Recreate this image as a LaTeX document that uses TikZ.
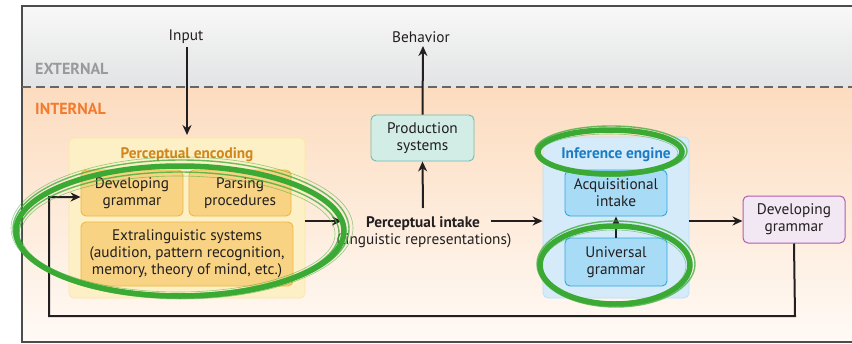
\documentclass[tikz,border=0pt]{standalone}
\usepackage{fontspec}
\setmainfont{PT Sans}
\usetikzlibrary{arrows.meta,shapes.geometric,decorations.pathmorphing}
\definecolor{extT}{HTML}{F8F8F8}
\definecolor{extB}{HTML}{E2E3E4}
\definecolor{intT}{HTML}{FCDCBF}
\definecolor{intB}{HTML}{FFFAF6}
\definecolor{peFill}{HTML}{FDF0C6}
\definecolor{peBorder}{HTML}{FBE7A6}
\definecolor{peIn}{HTML}{F7D383}
\definecolor{peInB}{HTML}{EFB743}
\definecolor{peTitle}{HTML}{D0861C}
\definecolor{prFill}{HTML}{D2ECE6}
\definecolor{prBorder}{HTML}{6DBCAE}
\definecolor{ieFill}{HTML}{D5EBF9}
\definecolor{ieBorder}{HTML}{BCDFF5}
\definecolor{ieIn}{HTML}{A8DBF5}
\definecolor{ieInB}{HTML}{2EA8E0}
\definecolor{ieTitle}{HTML}{1A7CC4}
\definecolor{dgFill}{HTML}{F1E8F4}
\definecolor{dgBorder}{HTML}{B05DAE}
\definecolor{intCol}{HTML}{F37A2E}
\definecolor{extCol}{HTML}{9A9A9A}
\definecolor{brush}{HTML}{3AAA35}
\definecolor{ink}{HTML}{231F20}
\tikzset{
  x=1pt,y=-1pt,
  txt/.style={font=\fontsize{15.3}{17}\selectfont, text=ink, align=center},
  btxt/.style={font=\bfseries\fontsize{15.3}{17}\selectfont},
  inbox/.style={txt, draw=peInB, fill=peIn, rounded corners=5pt, line width=0.9pt, minimum width=102pt, minimum height=46pt, inner sep=0pt},
  ibox/.style={txt, draw=ieInB, fill=ieIn, rounded corners=5pt, line width=0.9pt, minimum width=102pt, minimum height=46pt, inner sep=0pt},
  arr/.style={draw=ink, line width=2pt, -{Stealth[length=10pt,width=9pt]}},
  brushline/.style={draw=brush, line width=5.5pt},
  brushthin/.style={draw=brush, line width=1.4pt, opacity=0.75},
  brushhair/.style={draw=brush, line width=0.6pt, opacity=0.55}
}
\begin{document}
\begin{tikzpicture}
\useasboundingbox (0,0) rectangle (852,343);
% backgrounds
\shade[top color=extT, bottom color=extB] (22,6) rectangle (852,87);
\shade[top color=intT, bottom color=intB] (22,87) rectangle (852,342);
\draw[line width=1.4pt, draw=black!70] (853,6) -- (22,6) -- (22,342) -- (853,342);
\draw[dash pattern=on 9pt off 5pt, line width=1.4pt, draw=black!60] (22,87) -- (852,87);
\node[font=\bfseries\fontsize{16}{18}\selectfont, text=extCol, anchor=west, inner sep=0pt] (ext) at (35,69) {EXTERNAL};
\node[font=\bfseries\fontsize{16}{18}\selectfont, text=intCol, anchor=west, inner sep=0pt] (int) at (35,109) {INTERNAL};
% perceptual encoding
\node[draw=peBorder, fill=peFill, rounded corners=5pt, line width=0.8pt, minimum width=236pt, minimum height=160pt] (pe) at (187,218) {};
\node[btxt, text=peTitle] (pet) at (187,155) {Perceptual encoding};
\node[inbox] (dg1) at (132,193) {Developing\\grammar};
\node[inbox] (pp) at (240,193) {Parsing\\procedures};
\node[inbox, minimum width=212pt, minimum height=64pt] (ex) at (187,254) {Extralinguistic systems\\(audition, pattern recognition,\\memory, theory of mind, etc.)};
% inference engine
\node[draw=ieBorder, fill=ieFill, rounded corners=5pt, line width=0.8pt, minimum width=146pt, minimum height=161pt] (ie) at (616,217.5) {};
\node[btxt, text=ieTitle] (iet) at (616,155) {Inference engine};
\node[ibox] (ai) at (616,193) {Acquisitional\\intake};
\node[ibox, minimum height=48pt] (ug) at (616,262) {Universal\\grammar};
% production
\node[txt, draw=prBorder, fill=prFill, rounded corners=5pt, line width=0.9pt, minimum width=103pt, minimum height=46pt, inner sep=0pt] (ps) at (422.5,138) {Production\\systems};
% developing grammar output
\node[txt, draw=dgBorder, fill=dgFill, rounded corners=5pt, line width=1pt, minimum width=102pt, minimum height=47pt, inner sep=0pt] (dg2) at (794,219.5) {Developing\\grammar};
% texts
\node[txt] (input) at (186,37) {Input};
\node[txt] (beh) at (421,37) {Behavior};
\node[txt, btxt] (pi) at (423,224) {Perceptual intake};
\node[txt] (lr) at (424,241) {(linguistic representations)};
\coordinate (pitop) at (423,208);
% connectors
\draw[arr] (187,47) -- (187,135);
\draw[arr] (ps.north) -- (423,46);
\draw[arr] (pitop) -- (ps.south);
\draw[arr] (pe.east |- 0,221) -- (342,221);
\draw[arr] (491,221) -- (ie.west |- 0,221);
\draw[arr] (ug.north) -- (ai.south);
\draw[arr] (ie.east |- 0,221) -- (dg2.west |- 0,221);
\draw[arr] (dg2.south) -- (795,316) -- (49,316) -- (49,197) -- (dg1.west |- 0,197);
% green brush ellipses
\draw[brushline] (180,231) ellipse [x radius=164, y radius=65];
\draw[brushthin] (181,229) ellipse [x radius=168, y radius=69];
\draw[brushthin] (179,233) ellipse [x radius=160, y radius=61];
\draw[brushhair] (182,228) ellipse [x radius=171, y radius=71];
\draw[brushhair] (178,234) ellipse [x radius=157, y radius=58];
\draw[brushline] (610,152) ellipse [x radius=72, y radius=22];
\draw[brushthin] (611,151) ellipse [x radius=76, y radius=25];
\draw[brushhair] (609,153) ellipse [x radius=69, y radius=19];
\draw[brushline] (615,265) ellipse [x radius=75, y radius=39];
\draw[brushthin] (616,264) ellipse [x radius=79, y radius=43];
\draw[brushhair] (614,266) ellipse [x radius=72, y radius=36];
\end{tikzpicture}
\end{document}
